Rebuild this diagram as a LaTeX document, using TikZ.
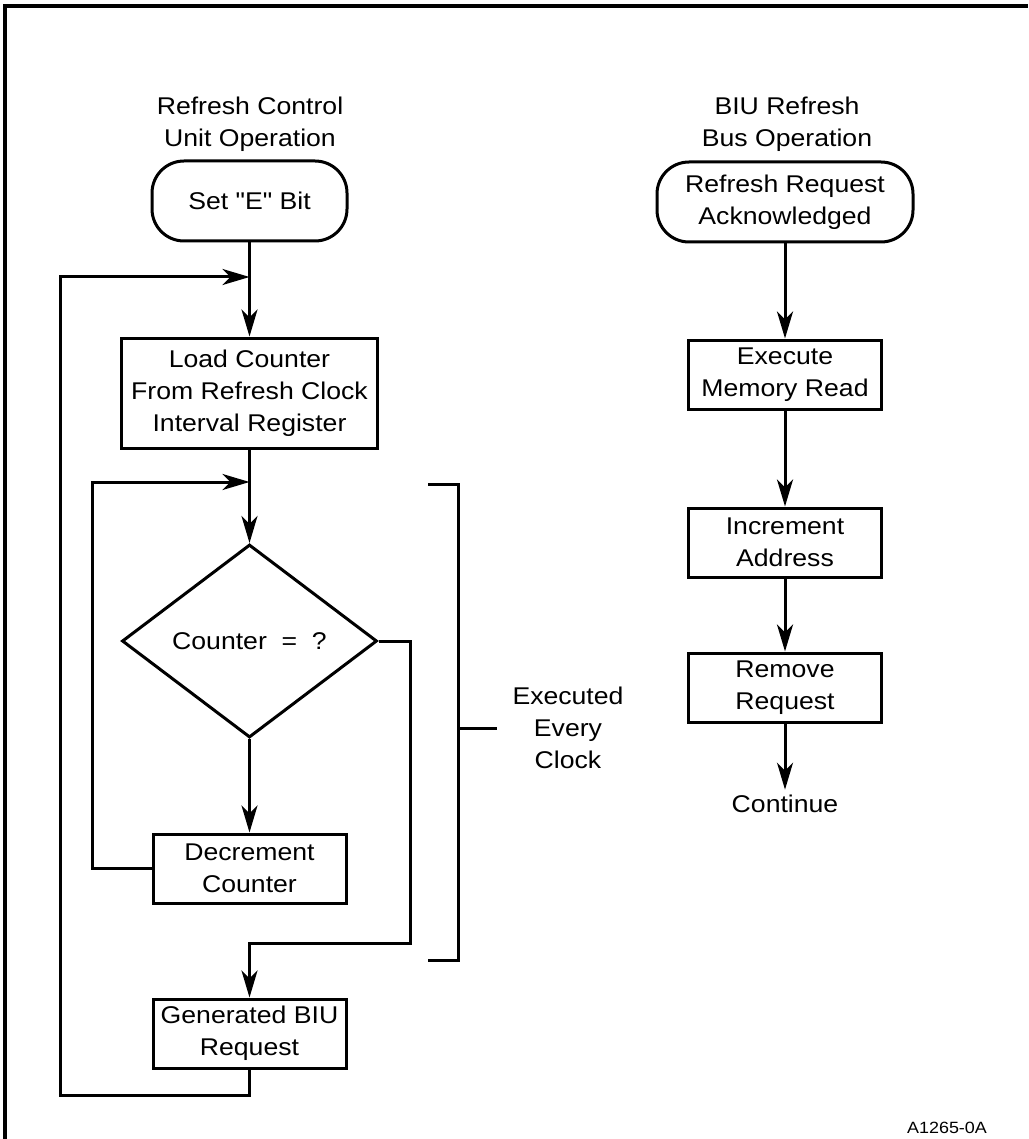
\documentclass[tikz,border=0pt]{standalone}
\usepackage{fontspec}
\setmainfont{Liberation Sans}[FakeStretch=1.1,Ligatures=TeXOff]
\usepackage{tikz}
\usetikzlibrary{arrows.meta,positioning,shapes.geometric}

\begin{document}
\begin{tikzpicture}[x=1pt,y=-1pt,line width=3pt,
 proc/.style={draw,minimum width=193pt,minimum height=69pt,inner sep=4pt,
 align=center,font=\fontsize{24.2}{32}\selectfont},
 term/.style={proc,rounded corners=32pt,minimum height=80pt},
 decide/.style={draw,diamond,minimum width=255pt,minimum height=193pt,
 inner sep=0pt,font=\fontsize{24.2}{32}\selectfont},
 head/.style={anchor=south,inner sep=0pt,align=center,font=\fontsize{24.2}{32}\selectfont},
 flow/.style={-{Stealth[length=27pt,width=16pt,inset=8pt]}}]
 \useasboundingbox (0,0) rectangle (1028,1139);
 \draw[line width=3.8pt] (4.7,1139) -- (4.7,6) -- (1028,6);

 % refresh control unit
 \node[head] (ltitle) at (250,153) {Refresh Control\\Unit Operation};
 \node[term,minimum width=195pt] (set) at (249.5,201) {Set "E" Bit};
 \node[proc,minimum width=256pt,minimum height=110pt] (load) at (249.5,393)
 {Load Counter\\From Refresh Clock\\Interval Register};
 \node[decide] (test) at (249.5,641) {Counter\ \ =\ \ ?};
 \node[proc] (dec) at (249.5,868.5) {Decrement\\Counter};
 \node[proc] (gen) at (249.5,1033.5) {Generated BIU\\Request};
 \coordinate (j1) at (249.5,277);
 \coordinate (j2) at (249.5,482);
 \coordinate (outer) at (60,1095);
 \coordinate (inner) at (92,482);
 \coordinate (skip) at (410,943);

 \draw[flow] (set) -- (load);
 \draw[flow] (load) -- (test);
 \draw[flow] (test) -- (dec);
 \draw[flow] (dec.west) -| (inner) -- (j2);
 \draw[flow] (test.east) -| (skip) -| (gen.north);
 \draw[flow] (gen.south) |- (outer) |- (j1);

 % bracket
 \draw (428,484) -- (458,484) -- (458,960) -- (428,960);
 \draw (458,728) -- (497,728);
 \node[align=center,font=\fontsize{24.2}{32}\selectfont] (every) at (568,728)
 {Executed\\Every\\Clock};

 % biu bus operation
 \node[head] (rtitle) at (787,153) {BIU Refresh\\Bus Operation};
 \node[term,minimum width=256pt] (ack) at (785,202) {Refresh Request\\Acknowledged};
 \node[proc,below=95pt of ack] (exec) {Execute\\Memory Read};
 \node[proc,below=96pt of exec] (inc) {Increment\\Address};
 \node[proc,below=73pt of inc] (rem) {Remove\\Request};
 \node[anchor=base,font=\fontsize{24.2}{32}\selectfont] (cont) at (785,812) {Continue};
 \draw[flow] (ack) -- (exec);
 \draw[flow] (exec) -- (inc);
 \draw[flow] (inc) -- (rem);
 \draw[flow] (rem) -- (cont);

 \node[anchor=base,font=\fontsize{16.3}{20}\selectfont] (fig) at (947,1133) {A1265-0A};
\end{tikzpicture}
\end{document}
